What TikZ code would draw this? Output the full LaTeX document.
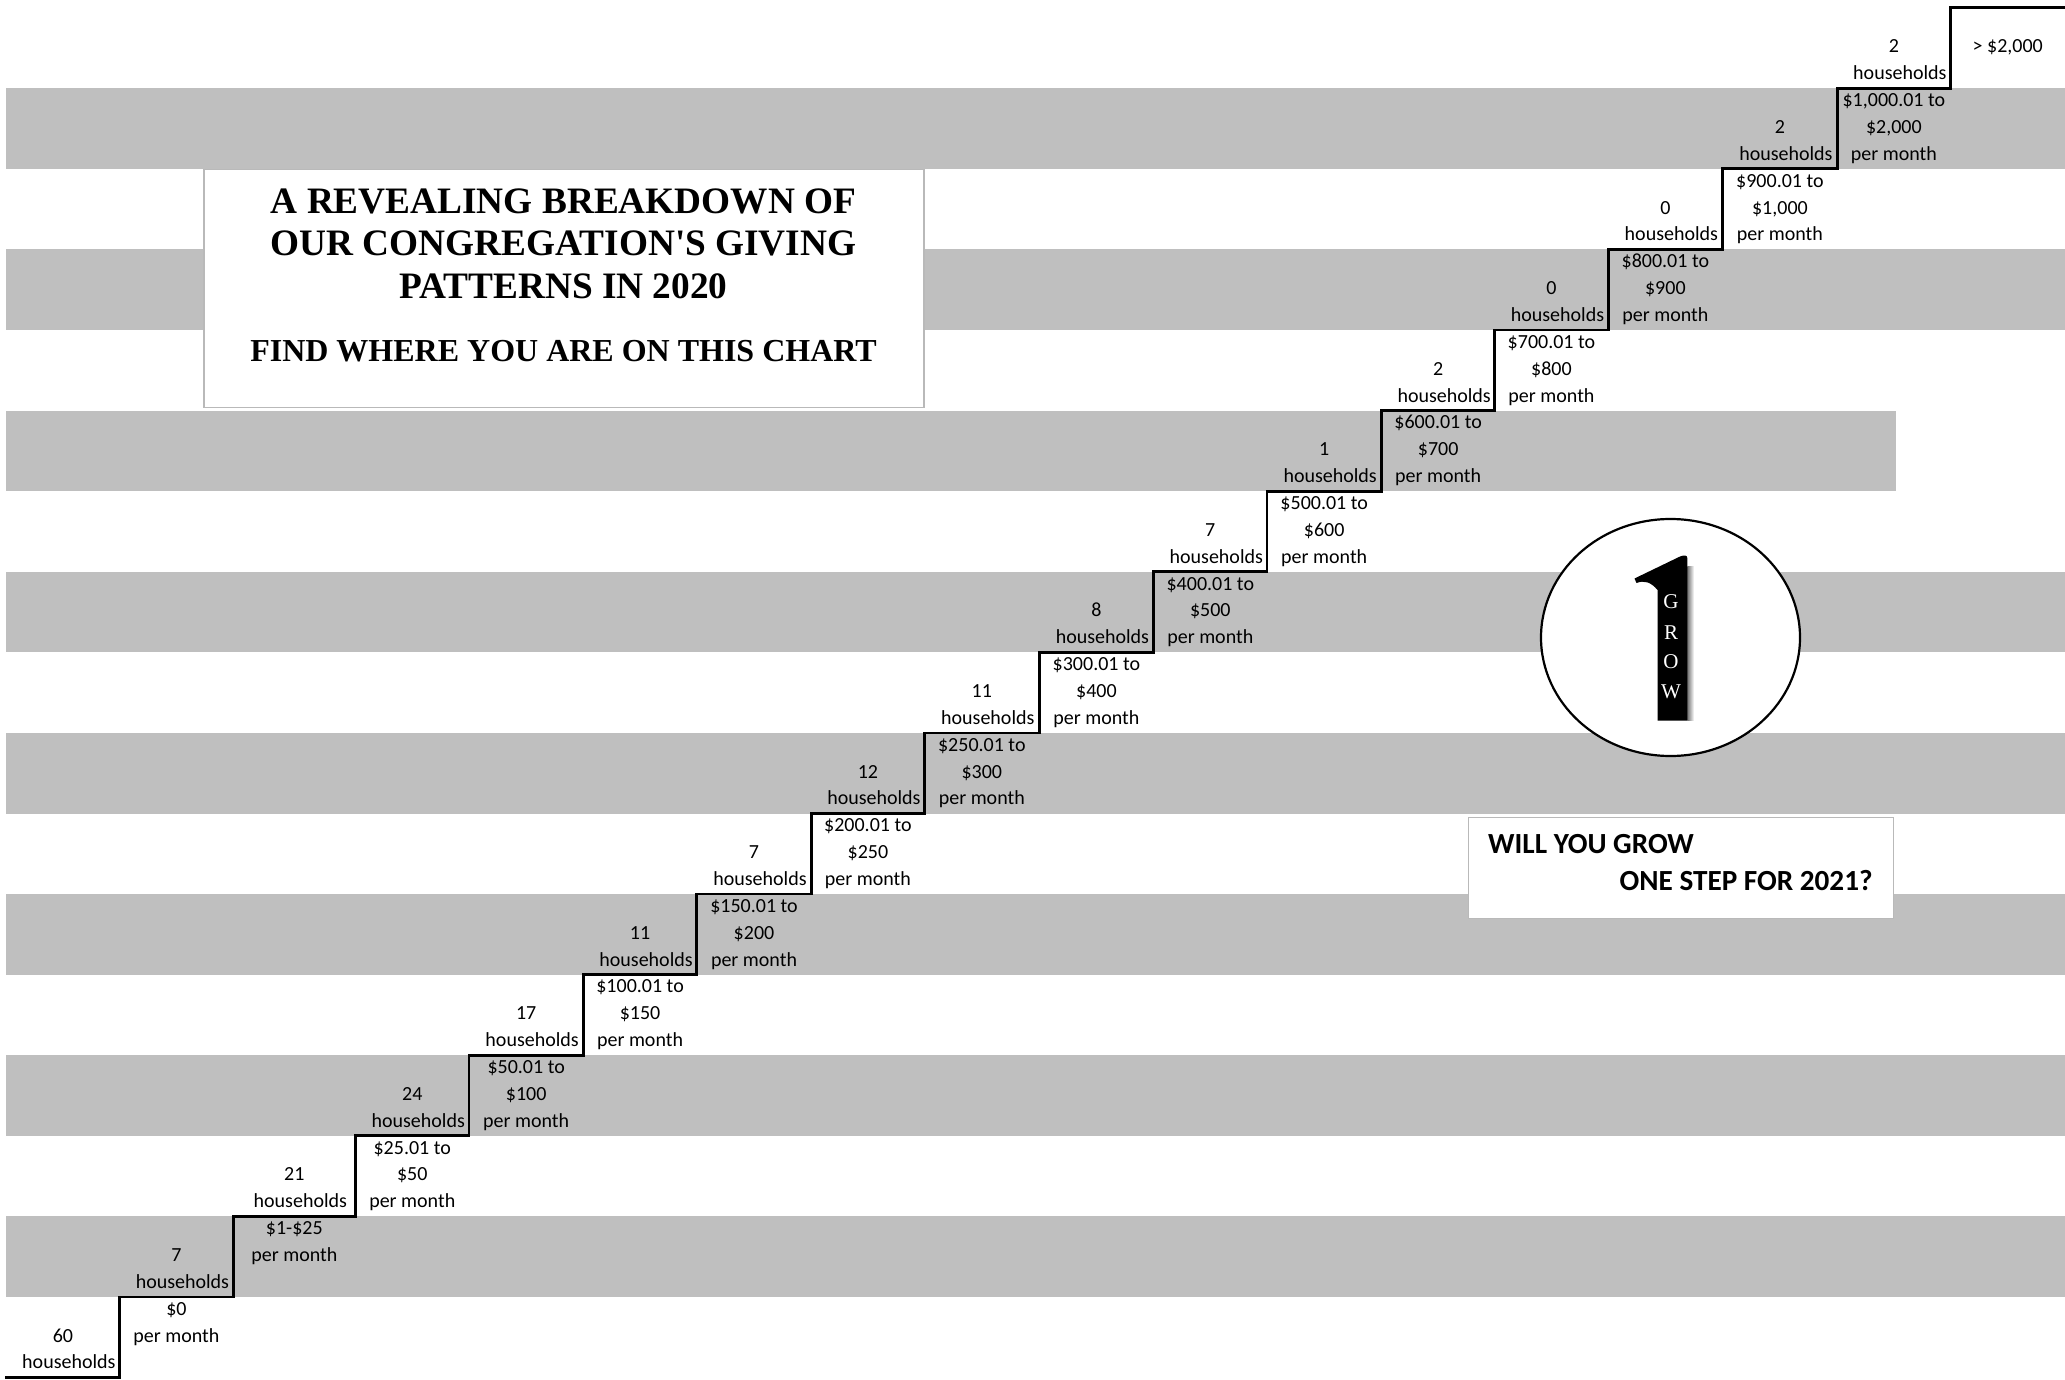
\documentclass[tikz,border=0pt]{standalone}
\usepackage{fontspec}
\usetikzlibrary{shapes.geometric}
\newfontfamily\calfont{Carlito}
\newfontfamily\timesfont{Liberation Serif}
\definecolor{bandgray}{RGB}{191,191,191}
\definecolor{boxgray}{RGB}{185,185,185}
\newcommand\steplab[5]{\node[lab] (#1) at ({#2},{7.7+80.58*(#3)+18.3+26.85*((#4)-1)}) {#5};}
\begin{document}
\begin{tikzpicture}[x=1pt,y=-1pt,
  lab/.style={anchor=base, inner sep=0pt, font=\calfont\fontsize{20}{24}\selectfont},
  band/.style={fill=bandgray},
  stair/.style={line width=2.8pt, line join=miter, draw=black},
  frame/.style={draw=boxgray, line width=1.3pt, fill=white, inner sep=0pt, anchor=north west},
  ttl/.style={anchor=base, inner sep=0pt, font=\timesfont\bfseries\fontsize{37.3}{42}\selectfont},
  qtext/.style={anchor=base west, inner sep=0pt, font=\calfont\bfseries\fontsize{29.2}{32}\selectfont},
  growlet/.style={inner sep=0pt, text=white, font=\timesfont\fontsize{21}{21}\selectfont}]
\useasboundingbox (0,0) rectangle (2065,1380);
\fill[white] (0,0) rectangle (2065,1380);
% bands
\foreach \r in {1,3,...,15} {\fill[band] (6,{7.7+80.58*\r}) rectangle (2065,{7.7+80.58*(\r+1)});}
\fill[white] (1896,410.6) rectangle (2065,491.18);
% title box
\node[frame, minimum width=720pt, minimum height=238pt] (titlebox) at (203.4,169) {};
\node[ttl] (t1) at (563.5,213.5) {A REVEALING BREAKDOWN OF};
\node[ttl] (t2) at (563.5,255.7) {OUR CONGREGATION{\char"27}S GIVING};
\node[ttl] (t3) at (563.5,298.5) {PATTERNS IN 2020};
\node[ttl, font=\timesfont\bfseries\fontsize{32}{36}\selectfont] (t4) at (563.5,362) {FIND WHERE YOU ARE ON THIS CHART};
% households
\foreach \j/\cx/\n in {0/62.9/60, 1/176.45/7, 2/294.35/21, 3/412.25/24, 4/526.15/17, 5/640.05/11, 6/754.0/7, 7/867.9/12, 8/981.8/11, 9/1096.4/8, 10/1210.3/7, 11/1324.2/1, 12/1438.15/2, 13/1551.45/0, 14/1665.35/0, 15/1779.9/2, 16/1893.85/2} {
  \pgfmathtruncatemacro\rr{16-\j}
  \steplab{hn\j}{\cx}{\rr}{2}{\n}
  \steplab{hh\j}{\cx+6}{\rr}{3}{households}
}
% money
\steplab{m1a}{176.45}{16}{1}{\$0}
\steplab{m1b}{176.45}{16}{2}{per month}
\steplab{m2a}{294.35}{15}{1}{\$1-\$25}
\steplab{m2b}{294.35}{15}{2}{per month}
\steplab{m3a}{412.25}{14}{1}{\$25.01 to}
\steplab{m3b}{412.25}{14}{2}{\$50}
\steplab{m3c}{412.25}{14}{3}{per month}
\steplab{m4a}{526.15}{13}{1}{\$50.01 to}
\steplab{m4b}{526.15}{13}{2}{\$100}
\steplab{m4c}{526.15}{13}{3}{per month}
\steplab{m5a}{640.05}{12}{1}{\$100.01 to}
\steplab{m5b}{640.05}{12}{2}{\$150}
\steplab{m5c}{640.05}{12}{3}{per month}
\steplab{m6a}{754.0}{11}{1}{\$150.01 to}
\steplab{m6b}{754.0}{11}{2}{\$200}
\steplab{m6c}{754.0}{11}{3}{per month}
\steplab{m7a}{867.9}{10}{1}{\$200.01 to}
\steplab{m7b}{867.9}{10}{2}{\$250}
\steplab{m7c}{867.9}{10}{3}{per month}
\steplab{m8a}{981.8}{9}{1}{\$250.01 to}
\steplab{m8b}{981.8}{9}{2}{\$300}
\steplab{m8c}{981.8}{9}{3}{per month}
\steplab{m9a}{1096.4}{8}{1}{\$300.01 to}
\steplab{m9b}{1096.4}{8}{2}{\$400}
\steplab{m9c}{1096.4}{8}{3}{per month}
\steplab{m10a}{1210.3}{7}{1}{\$400.01 to}
\steplab{m10b}{1210.3}{7}{2}{\$500}
\steplab{m10c}{1210.3}{7}{3}{per month}
\steplab{m11a}{1324.2}{6}{1}{\$500.01 to}
\steplab{m11b}{1324.2}{6}{2}{\$600}
\steplab{m11c}{1324.2}{6}{3}{per month}
\steplab{m12a}{1438.15}{5}{1}{\$600.01 to}
\steplab{m12b}{1438.15}{5}{2}{\$700}
\steplab{m12c}{1438.15}{5}{3}{per month}
\steplab{m13a}{1551.45}{4}{1}{\$700.01 to}
\steplab{m13b}{1551.45}{4}{2}{\$800}
\steplab{m13c}{1551.45}{4}{3}{per month}
\steplab{m14a}{1665.35}{3}{1}{\$800.01 to}
\steplab{m14b}{1665.35}{3}{2}{\$900}
\steplab{m14c}{1665.35}{3}{3}{per month}
\steplab{m15a}{1779.9}{2}{1}{\$900.01 to}
\steplab{m15b}{1779.9}{2}{2}{\$1,000}
\steplab{m15c}{1779.9}{2}{3}{per month}
\steplab{m16a}{1893.85}{1}{1}{\$1,000.01 to}
\steplab{m16b}{1893.85}{1}{2}{\$2,000}
\steplab{m16c}{1893.85}{1}{3}{per month}
\steplab{m17}{2007.75}{0}{2}{> \$2,000}
% staircase
\draw[stair] (5,1377.56) -- (119.8,1377.56) |- (233.1,1296.98) |- (355.6,1216.4) |- (468.9,1135.82) |- (583.4,1055.24) |- (696.7,974.66) |- (811.3,894.08) |- (924.5,813.5) |- (1039.1,732.92) |- (1153.7,652.34) |- (1266.9,571.76) |- (1381.5,491.18) |- (1494.8,410.6) |- (1608.1,330.02) |- (1722.6,249.44) |- (1837.2,168.86) |- (1950.5,88.28) |- (2065,7.7);
% grow emblem
\node[ellipse, draw=black, fill=white, line width=2.2pt, minimum width=259pt, minimum height=237pt, inner sep=0pt] (growcirc) at (1670.5,637.5) {};
\shade[left color=black!55, right color=white] (1687.3,566) rectangle (1694,720.7);
\fill[black] (1687.3,558) -- (1687.3,720.7) -- (1657.5,720.7) -- (1657.5,590) .. controls (1651,582) and (1644,580) .. (1636.5,583) -- (1634.5,578.5) -- (1680,556.5) .. controls (1684,555) and (1687.3,555) .. (1687.3,558) -- cycle;
\node[growlet] (gG) at (1671,601.7) {G};
\node[growlet] (gR) at (1671,632.5) {R};
\node[growlet] (gO) at (1671,662) {O};
\node[growlet] (gW) at (1671,691.7) {W};
% question box
\node[frame, minimum width=424.5pt, minimum height=101.5pt] (growbox) at (1468,816.5) {};
\node[qtext] (q1) at (1488,853.5) {WILL YOU GROW};
\node[qtext] (q2) at (1619.5,890.5) {ONE STEP FOR 2021?};
\end{tikzpicture}
\end{document}
